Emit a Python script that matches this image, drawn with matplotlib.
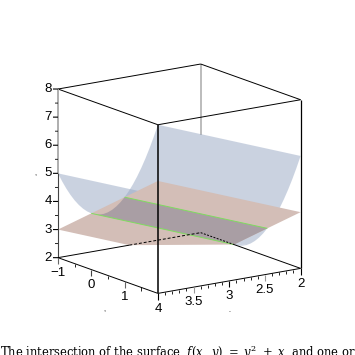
#!/usr/bin/env python3
import matplotlib
matplotlib.use('Agg')
import matplotlib.pyplot as plt
from mpl_toolkits.mplot3d import proj3d
from mpl_toolkits.mplot3d.art3d import Poly3DCollection

# surface, sampled along the two x edges
surf_y = [-1, -0.875, -0.75, -0.625, -0.5, -0.375, -0.25, -0.125, 0, 0.125, 0.25, 0.375, 0.5,
          0.625, 0.75, 0.875, 1, 1.125, 1.25, 1.375, 1.5, 1.625, 1.75, 1.875, 2]
surf_z_x4 = [5, 4.766, 4.563, 4.391, 4.25, 4.141, 4.063, 4.016, 4, 4.016, 4.063, 4.141, 4.25,
             4.391, 4.563, 4.766, 5, 5.266, 5.563, 5.891, 6.25, 6.641, 7.063, 7.516, 8]
surf_z_x2 = [3, 2.766, 2.563, 2.391, 2.25, 2.141, 2.063, 2.016, 2, 2.016, 2.063, 2.141, 2.25,
             2.391, 2.563, 2.766, 3, 3.266, 3.563, 3.891, 4.25, 4.641, 5.063, 5.516, 6]
fold = 11

# plane, cut off at the floor of the box
plane_x = [4, 4, 2, 2, 3]
plane_y = [-1, 2, 2, 0, -1]
plane_z = [3, 6, 4, 2, 2]

# intersection lines
line_x = [4, 2]
line0_y = [0, 0]
line0_z = [4, 2]
line1_y = [1, 1]
line1_z = [5, 3]

x_major = [2, 2.5, 3, 3.5, 4]
x_labels = ['2', '2.5', '3', '3.5', '4']
x_minor = [2.1, 2.2, 2.3, 2.4, 2.6, 2.7, 2.8, 2.9, 3.1, 3.2, 3.3, 3.4, 3.6, 3.7, 3.8, 3.9]
y_major = [-1, 0, 1]
y_labels = ['\u22121', '0', '1']
y_minor = [-0.5, 0.5, 1.5]
z_major = [2, 3, 4, 5, 6, 7, 8]
z_minor = [2.5, 3.5, 4.5, 5.5, 6.5, 7.5]

blue = '#97a7c3'
rose = '#d3beb7'
dark = '#a99ea4'
green = '#7fdc5f'

plt.rcParams['font.family'] = ['Liberation Sans', 'DejaVu Sans']
plt.rcParams['mathtext.fontset'] = 'dejavuserif'

fig = plt.figure(figsize=(3.55, 3.55), dpi=100)
ax = fig.add_axes([-3 / 355, -6 / 355, 1, 1], projection='3d', computed_zorder=False)
ax.set_proj_type('ortho')
ax.view_init(elev=14.5, azim=55)
ax.set_box_aspect((1, 1, 1), zoom=0.825)
ax.set_axis_off()
ax.set_xlim(2, 4)
ax.set_ylim(-1, 2)
ax.set_zlim(2, 8)


def sheet(i0, i1):
    ys = surf_y[i0:i1]
    verts = [(4, y, z) for y, z in zip(ys, surf_z_x4[i0:i1])]
    verts += [(2, y, z) for y, z in zip(ys[::-1], surf_z_x2[i0:i1][::-1])]
    return verts


def seg(xs, ys, zs, c='black', lw=0.7, ls='-', zo=5):
    ax.plot(xs, ys, zs, color=c, lw=lw, ls=ls, zorder=zo, solid_capstyle='butt')


def label(x, y, z, s, size=9.5):
    px, py, _ = proj3d.proj_transform(x, y, z, ax.get_proj())
    ax.text2D(px, py, s, transform=ax.transData, fontsize=size, ha='center', va='center', zorder=7)


# back edge shows only above the surface
seg([2, 2], [-1, -1], [8, 5.46], c='#bcbcbc', lw=1.4, zo=0)

ax.add_collection3d(Poly3DCollection([sheet(0, fold + 1)], facecolor=blue, alpha=0.5, linewidths=0, zorder=1))
ax.add_collection3d(Poly3DCollection([sheet(fold, len(surf_y))], facecolor=blue, alpha=0.5, linewidths=0, zorder=1.5))
ax.add_collection3d(Poly3DCollection([list(zip(plane_x, plane_y, plane_z))], facecolor=rose, linewidths=0, zorder=2))

i0, i1 = surf_y.index(0), surf_y.index(1) + 1
dark_verts = [(4, y, z) for y, z in zip(surf_y[i0:i1], surf_z_x4[i0:i1])] + [(2, 1, 3), (2, 0, 2)]
ax.add_collection3d(Poly3DCollection([dark_verts], facecolor=dark, linewidths=0, zorder=3))

seg(line_x, line0_y, line0_z, c=green, lw=0.7, zo=4)
seg(line_x, line1_y, line1_z, c=green, lw=0.7, zo=4)

# box
seg([4, 2], [-1, -1], [8, 8])
seg([2, 2], [-1, 2], [8, 8])
seg([2, 4], [2, 2], [8, 8])
seg([4, 4], [2, -1], [8, 8])
seg([4, 4], [-1, -1], [8, 5], c='#a8a8a8', lw=1.3)
seg([4, 4], [-1, -1], [5, 2], c='#444444', lw=0.8)
seg([4, 4], [2, 2], [8, 2], lw=1.1, zo=6)
seg([2, 2], [2, 2], [8, 2], lw=0.9, zo=6)
seg([4, 4], [-1, 2], [2, 2])
seg([4, 2], [2, 2], [2, 2])
seg([4, 3], [-1, -1], [2, 2])
seg([3, 2], [-1, -1], [2, 2], ls=(0, (3, 2)))
seg([2, 2], [-1, 0], [2, 2], ls=(0, (2, 1.5)))
seg([2, 2], [0, 2], [2, 2])

# ticks: x and y hang down, z sticks out to the left on screen
for v in x_major:
    seg([v, v], [2, 2], [2, 1.78], lw=0.8, c='black' if v in (2, 3, 4) else '#999999')
for v in x_minor:
    seg([v, v], [2, 2], [2, 1.89], lw=0.6)
for v in y_major:
    seg([4, 4], [v, v], [2, 1.78], lw=0.8, c='#666666' if v != 0 else '#444444')
for v in y_minor:
    seg([4, 4], [v, v], [2, 1.89], lw=0.6)
for v in z_major:
    seg([4, 4.047], [-1, -1.05], [v, v], lw=0.8)
for v in z_minor:
    seg([4, 4.028], [-1, -1.03], [v, v], lw=0.6)

for v, s in zip(x_major, x_labels):
    label(v, 2, 1.46, s)
for v, s in zip(y_major, y_labels):
    label(4, v, 1.46, s)
for v in z_major:
    label(4.095, -1.1, v, str(v))

# axis labels, squeezed to nothing in the original
label(4, 0.4, 0.75, ',', size=5)
label(4.21, -1.22, 5, ',', size=5)
label(3, 2, 0.95, '.', size=5)

fig.text(0, -2 / 355, r'The intersection of the surface $\ f(x,\ y)\ =\ y^2\ +\ x\ $ and one or two planes',
         family='DejaVu Serif', fontsize=8.3, ha='left', va='baseline')

fig.savefig('out.png', dpi=100)
